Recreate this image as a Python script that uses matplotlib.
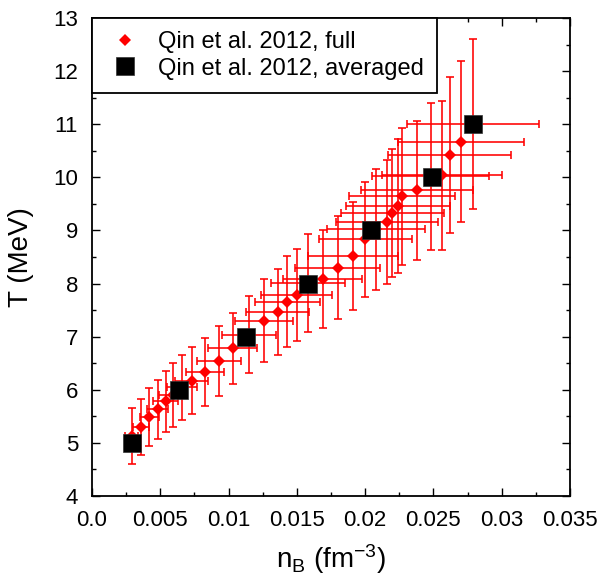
import matplotlib
matplotlib.use('Agg')
import matplotlib.pyplot as plt
from matplotlib.ticker import MultipleLocator, FixedLocator, FixedFormatter

plt.rcParams['font.family'] = ['Liberation Sans', 'DejaVu Sans']
plt.rcParams['mathtext.default'] = 'regular'

# Qin et al. 2012, full data set
full_nB = [0.0029, 0.0036, 0.0042, 0.0048, 0.0054, 0.0059, 0.0066, 0.0073, 0.0083,
           0.0093, 0.0103, 0.0115, 0.0126, 0.0136, 0.0143, 0.0150, 0.0158, 0.0169,
           0.0180, 0.0191, 0.0200, 0.0208, 0.0216, 0.0220, 0.0224, 0.0227, 0.0238,
           0.0248, 0.0256, 0.0262, 0.0270, 0.0279]
full_T = [5.13, 5.30, 5.49, 5.63, 5.78, 5.90, 6.05, 6.17, 6.34, 6.54, 6.78, 7.04,
          7.30, 7.47, 7.66, 7.79, 8.01, 8.08, 8.30, 8.52, 8.83, 9.02, 9.16, 9.33,
          9.46, 9.64, 9.76, 10.02, 10.04, 10.42, 10.67, 11.00]
full_nB_err = [0.0005, 0.0006, 0.0007, 0.0008, 0.0009, 0.0010, 0.0011, 0.0012, 0.0014,
               0.0016, 0.0018, 0.0020, 0.0021, 0.0023, 0.0024, 0.0026, 0.0027, 0.0029,
               0.0031, 0.0033, 0.0034, 0.0036, 0.0037, 0.0038, 0.0038, 0.0039, 0.0041,
               0.0043, 0.0044, 0.0045, 0.0046, 0.0048]
full_T_err = [0.52, 0.53, 0.55, 0.56, 0.58, 0.60, 0.61, 0.63, 0.64, 0.66, 0.67, 0.72,
              0.78, 0.81, 0.85, 0.87, 0.92, 0.92, 0.97, 1.02, 1.08, 1.14, 1.16, 1.21,
              1.26, 1.29, 1.31, 1.38, 1.40, 1.46, 1.52, 1.60]

# Qin et al. 2012, averaged
avg_nB = [0.0029, 0.0064, 0.0113, 0.0158, 0.0204, 0.0249, 0.0279]
avg_T = [5, 6, 7, 8, 9, 10, 11]

x_ticks = [0.0, 0.005, 0.01, 0.015, 0.02, 0.025, 0.03, 0.035]
x_tick_labels = ['0.0', '0.005', '0.01', '0.015', '0.02', '0.025', '0.03', '0.035']
y_ticks = [4, 5, 6, 7, 8, 9, 10, 11, 12, 13]

fig = plt.figure(figsize=(6.0, 5.78), dpi=100)
ax = fig.add_axes([92/600, 82/578, 478/600, 478/578])

ax.errorbar(full_nB, full_T, xerr=full_nB_err, yerr=full_T_err, fmt='none',
            ecolor='red', elinewidth=1.15, capsize=2.7, capthick=1.15, zorder=2)
ax.plot(full_nB, full_T, linestyle='none', marker='D', markersize=6.2,
        color='red', markeredgewidth=0, zorder=3, label='Qin et al. 2012, full')
ax.plot(avg_nB, avg_T, linestyle='none', marker='s', markersize=13,
        color='black', markeredgecolor='#333333', markeredgewidth=0.5, zorder=4,
        label='Qin et al. 2012, averaged')

ax.set_xlim(0, 0.035)
ax.set_ylim(4, 13)
ax.xaxis.set_major_locator(FixedLocator(x_ticks))
ax.xaxis.set_major_formatter(FixedFormatter(x_tick_labels))
ax.xaxis.set_minor_locator(MultipleLocator(0.0025))
ax.yaxis.set_major_locator(FixedLocator(y_ticks))
ax.yaxis.set_minor_locator(MultipleLocator(0.5))

ax.tick_params(which='both', direction='in', top=True, right=True, width=1.0,
               labelsize=16, pad=10)
ax.tick_params(which='major', length=6)
ax.tick_params(which='minor', length=3)
for s in ax.spines.values():
    s.set_linewidth(1.3)

ax.set_xlabel(r'n$_{B}$ (fm$^{-3}$)', fontsize=20, labelpad=8)
ax.set_ylabel('T (MeV)', fontsize=20, labelpad=14)

leg = ax.legend(loc='upper left', bbox_to_anchor=(0, 1), borderaxespad=0,
                fancybox=False, edgecolor='black', framealpha=1, fontsize=17,
                handletextpad=0.55, borderpad=0.55, labelspacing=0.2,
                handlelength=1.7, markerscale=1.0)
leg.get_frame().set_linewidth(1.3)
leg.set_zorder(10)
leg.legend_handles[0].set_markersize(6.0)

fig.savefig('out.png', dpi=100)
